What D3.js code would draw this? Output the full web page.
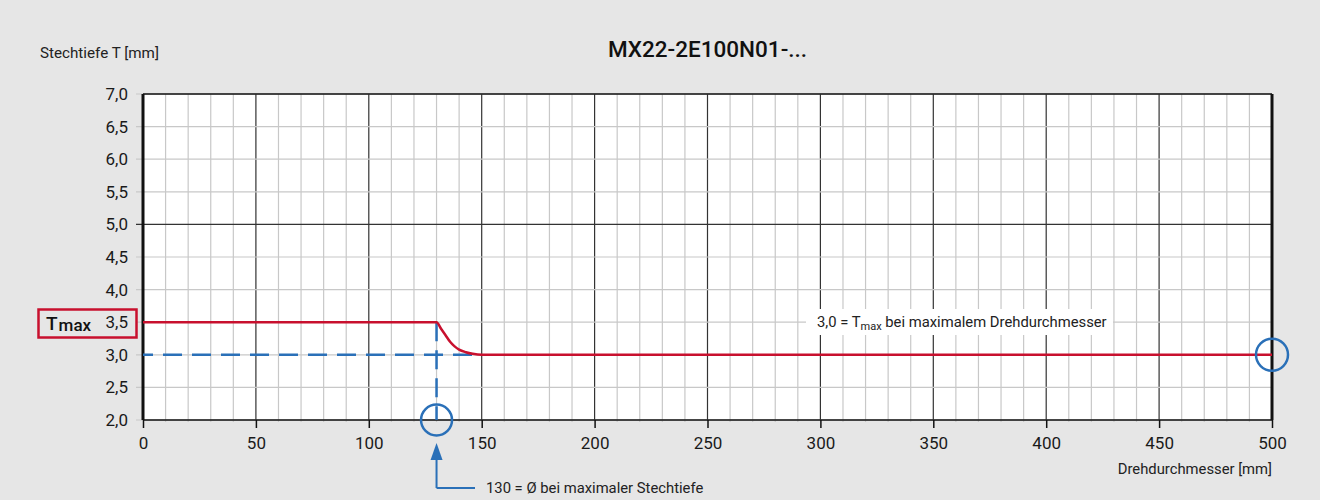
<!DOCTYPE html>
<html>
<head>
<meta charset="utf-8">
<script src="https://cdn.jsdelivr.net/npm/d3@7"></script>
<style>
  html, body { margin: 0; padding: 0; background: #e6e6e6; }
  svg { display: block; font-family: Roboto, "Noto Sans", sans-serif; }
</style>
</head>
<body>
<svg id="chart" width="1320" height="500"></svg>
<script>
// Stechtiefe über Drehdurchmesser
const title = "MX22-2E100N01-...";
const yAxisTitle = "Stechtiefe T [mm]";
const xAxisTitle = "Drehdurchmesser [mm]";

const xTicks = [0, 50, 100, 150, 200, 250, 300, 350, 400, 450, 500];
const yTicks = [2.0, 2.5, 3.0, 3.5, 4.0, 4.5, 5.0, 5.5, 6.0, 6.5, 7.0];

// Kurve der maximalen Stechtiefe
const curveDiameter = [0, 130, 132, 134, 136, 138, 140, 143, 146, 150, 500];
const curveDepth    = [3.5, 3.5, 3.4, 3.3, 3.2, 3.13, 3.08, 3.04, 3.015, 3.0, 3.0];

const tMax = 3.5;
const tAtMaxDiameter = 3.0;
const diameterAtMaxDepth = 130;
const maxDiameter = 500;
const flatStart = 150;

const svg = d3.select("#chart");
const m = { left: 143, right: 1272, top: 94, bottom: 420 };

const x = d3.scaleLinear().domain([0, 500]).range([m.left, m.right]);
const y = d3.scaleLinear().domain([2, 7]).range([m.bottom, m.top]);

const fmt = d => d3.format(".1f")(d).replace(".", ",");
const small = 14.8;

// plot background
svg.append("rect")
  .attr("x", m.left).attr("y", m.top)
  .attr("width", m.right - m.left).attr("height", m.bottom - m.top)
  .attr("fill", "#fff");

// minor vertical grid (every 10 mm)
const minorX = d3.range(10, 500, 10).filter(v => v % 50 !== 0);
svg.append("g").selectAll("line").data(minorX).join("line")
  .attr("x1", d => x(d)).attr("x2", d => x(d))
  .attr("y1", m.top).attr("y2", m.bottom + 2)
  .attr("stroke", "#c8c8c8").attr("stroke-width", 1.2);

// major vertical grid
svg.append("g").selectAll("line").data(xTicks.slice(1, -1)).join("line")
  .attr("x1", d => x(d)).attr("x2", d => x(d))
  .attr("y1", m.top).attr("y2", m.bottom)
  .attr("stroke", "#333").attr("stroke-width", 1.2);

// horizontal grid
svg.append("g").selectAll("line").data(yTicks).join("line")
  .attr("x1", m.left - 7).attr("x2", m.right)
  .attr("y1", d => y(d)).attr("y2", d => y(d))
  .attr("stroke", d => d === 5.0 ? "#333" : "#c8c8c8")
  .attr("stroke-width", 1.2);

// frame
svg.append("line").attr("x1", m.left).attr("x2", m.right)
  .attr("y1", m.top).attr("y2", m.top).attr("stroke", "#111").attr("stroke-width", 1.5);
svg.append("line").attr("x1", m.left).attr("x2", m.right)
  .attr("y1", m.bottom).attr("y2", m.bottom).attr("stroke", "#111").attr("stroke-width", 1.5);
svg.append("line").attr("x1", m.left).attr("x2", m.left)
  .attr("y1", m.top).attr("y2", m.bottom).attr("stroke", "#111").attr("stroke-width", 3);
svg.append("line").attr("x1", m.right).attr("x2", m.right)
  .attr("y1", m.top).attr("y2", m.bottom).attr("stroke", "#111").attr("stroke-width", 3);

// x axis ticks & labels
const xAxis = d3.axisBottom(x).tickValues(xTicks).tickSize(8).tickPadding(9).tickFormat(d3.format("d"));
const gx = svg.append("g").attr("transform", `translate(0,${m.bottom})`).call(xAxis);
gx.select(".domain").remove();
gx.selectAll(".tick line").attr("stroke", "#111").attr("stroke-width", 1.5);
gx.selectAll(".tick text").attr("font-size", 17).attr("fill", "#1a1a1a")
  .attr("font-family", "Roboto, sans-serif");

// y axis labels
const yAxis = d3.axisLeft(y).tickValues(yTicks).tickSize(0).tickPadding(15).tickFormat(fmt);
const gy = svg.append("g").attr("transform", `translate(${m.left},0)`).call(yAxis);
gy.select(".domain").remove();
gy.selectAll(".tick text").attr("font-size", 17).attr("fill", "#1a1a1a")
  .attr("font-family", "Roboto, sans-serif");

// titles
svg.append("text").attr("x", (m.left + m.right) / 2).attr("y", 57)
  .attr("text-anchor", "middle").attr("font-size", 22.5).attr("font-weight", 500)
  .attr("fill", "#111").text(title);
svg.append("text").attr("x", 40).attr("y", 58)
  .attr("font-size", 15.2).attr("fill", "#222").text(yAxisTitle);
svg.append("text").attr("x", m.right).attr("y", 474)
  .attr("text-anchor", "end").attr("font-size", small).attr("fill", "#222").text(xAxisTitle);

// guide lines
const blue = "#2a70b8";
svg.append("line")
  .attr("x1", x(0)).attr("x2", x(flatStart))
  .attr("y1", y(tAtMaxDiameter)).attr("y2", y(tAtMaxDiameter))
  .attr("stroke", blue).attr("stroke-width", 2.5).attr("stroke-dasharray", "19,10")
  .attr("stroke-dashoffset", 9);
svg.append("line")
  .attr("x1", x(diameterAtMaxDepth)).attr("x2", x(diameterAtMaxDepth))
  .attr("y1", y(tMax)).attr("y2", y(2))
  .attr("stroke", blue).attr("stroke-width", 2.5).attr("stroke-dasharray", "19,9");

// depth curve
const pts = curveDiameter.map((d, i) => [d, curveDepth[i]]);
svg.append("path").datum(pts)
  .attr("d", d3.line().x(d => x(d[0])).y(d => y(d[1])).curve(d3.curveMonotoneX))
  .attr("fill", "none").attr("stroke", "#c8102e").attr("stroke-width", 2.5);

// circles
svg.append("circle").attr("cx", x(diameterAtMaxDepth)).attr("cy", y(2)).attr("r", 15.5)
  .attr("fill", "none").attr("stroke", blue).attr("stroke-width", 2.5);
svg.append("circle").attr("cx", x(maxDiameter)).attr("cy", y(tAtMaxDiameter)).attr("r", 16)
  .attr("fill", "none").attr("stroke", blue).attr("stroke-width", 2.5);

// annotation at the right
const note = svg.append("g");
note.append("rect").attr("x", 806).attr("y", 309).attr("width", 307).attr("height", 26).attr("fill", "#fff");
const nt = note.append("text").attr("x", 817).attr("y", 327).attr("font-size", small).attr("fill", "#222");
nt.append("tspan").text(fmt(tAtMaxDiameter) + " = T");
nt.append("tspan").attr("font-size", 11).attr("dy", 3).text("max");
nt.append("tspan").attr("dy", -3).text(" bei maximalem Drehdurchmesser");

// Tmax label box
svg.append("rect").attr("x", 38.5).attr("y", 309.5).attr("width", 98).attr("height", 28)
  .attr("fill", "none").attr("stroke", "#c8102e").attr("stroke-width", 2.5);
const tm = svg.append("text").attr("x", 46).attr("y", 330).attr("font-size", 19)
  .attr("font-weight", 500).attr("fill", "#111");
tm.append("tspan").text("T");
tm.append("tspan").attr("font-size", 17).attr("dy", 1).attr("dx", 1).text("max");

// bottom arrow note
const ax = x(diameterAtMaxDepth);
svg.append("path")
  .attr("d", `M${ax},488 L${ax},458 M475,488 L${ax},488`)
  .attr("fill", "none").attr("stroke", blue).attr("stroke-width", 2);
svg.append("path")
  .attr("d", `M${ax},443 L${ax - 6},460 L${ax + 6},460 Z`)
  .attr("fill", blue);
svg.append("text").attr("x", 486).attr("y", 493).attr("font-size", small).attr("fill", "#222")
  .text(diameterAtMaxDepth + " = Ø bei maximaler Stechtiefe");
</script>
</body>
</html>
